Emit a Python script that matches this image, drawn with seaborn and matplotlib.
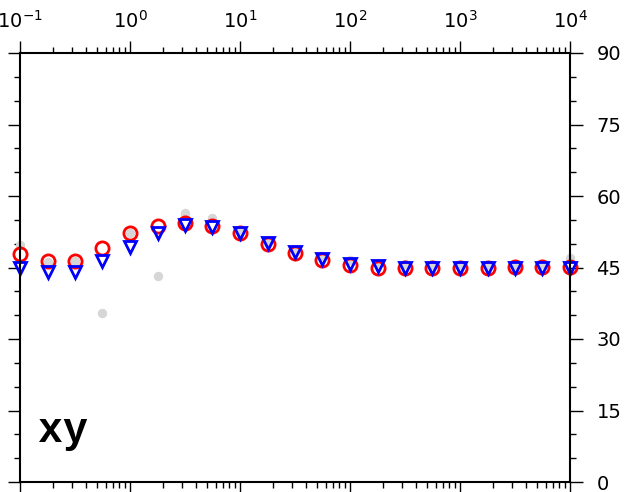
import numpy as np
import pandas as pd
import seaborn as sns
import matplotlib.pyplot as plt
from matplotlib.font_manager import FontProperties
from matplotlib.ticker import LogLocator, MultipleLocator, NullFormatter

# periods, 4 per decade from 1e-1 to 1e4
period = [0.1, 0.178, 0.316, 0.562, 1.0, 1.78, 3.16, 5.62, 10.0, 17.8, 31.6,
          56.2, 100.0, 178.0, 316.0, 562.0, 1000.0, 1780.0, 3160.0, 5620.0, 10000.0]

phase_red = [47.8, 46.4, 46.4, 49.0, 52.3, 53.7, 54.4, 53.7, 52.2, 49.9, 48.1,
             46.6, 45.5, 45.0, 44.8, 44.8, 45.0, 45.0, 45.1, 45.1, 45.1]
phase_blue = [44.8, 44.1, 44.1, 46.4, 49.4, 52.2, 54.0, 53.6, 52.3, 50.1, 48.3,
              46.7, 45.7, 45.3, 45.0, 45.0, 45.0, 45.0, 45.0, 45.0, 45.0]
phase_gray = [49.7, 46.2, 46.3, 35.5, 52.2, 43.3, 56.5, 55.3, 52.5, 50.2, 48.5,
              47.5, 46.5, 46.0, 45.8, 45.6, 45.5, 45.5, 45.6, 45.8, 46.9]

df = pd.DataFrame({"period": period, "red": phase_red,
                   "blue": phase_blue, "gray": phase_gray})

sns.set_style("white")
plt.rcParams['font.family'] = ['DejaVu Sans']

fig = plt.figure(figsize=(6.25, 4.92), dpi=100)
ax = fig.add_axes([20 / 625, 10 / 492, 550 / 625, 429 / 492])

sns.lineplot(data=df, x="period", y="gray", ax=ax, linestyle="none", marker="o",
             markersize=6, color="#d6d6d6", mec="#d6d6d6", clip_on=False)
sns.lineplot(data=df, x="period", y="red", ax=ax, linestyle="none", marker="o",
             markersize=9.5, mfc="none", mec="red", mew=2, color="red", clip_on=False)
sns.lineplot(data=df, x="period", y="blue", ax=ax, linestyle="none", marker="v",
             markersize=8, mfc="none", mec="blue", mew=2, color="blue", clip_on=False)

ax.set_xscale("log")
ax.set_xlim(0.1, 10000)
ax.set_ylim(0, 90)
ax.set_xlabel("")
ax.set_ylabel("")

ax.xaxis.set_major_locator(LogLocator(base=10, numticks=10))
ax.xaxis.set_minor_locator(LogLocator(base=10, subs=np.arange(2, 10), numticks=100))
ax.xaxis.set_minor_formatter(NullFormatter())
ax.yaxis.set_major_locator(MultipleLocator(15))
ax.yaxis.set_minor_locator(MultipleLocator(5))

ax.tick_params(axis="x", which="both", top=True, bottom=True, labeltop=True,
               labelbottom=False, direction="out", width=1, colors="black")
ax.tick_params(axis="y", which="both", left=True, right=True, labelright=True,
               labelleft=False, direction="out", width=1, colors="black")
ax.tick_params(which="major", length=9, labelsize=14, pad=6)
ax.tick_params(which="minor", length=4)
ax.tick_params(axis="y", which="major", pad=10)

for sp in ax.spines.values():
    sp.set_linewidth(1.5)
    sp.set_color("black")

mono = FontProperties(family=["Liberation Mono", "DejaVu Sans Mono"],
                      weight="bold", size=30)
ax.text(0.033, 0.093, "xy", transform=ax.transAxes, fontproperties=mono,
        color="black", ha="left", va="baseline")

fig.savefig("out.png", dpi=100)
